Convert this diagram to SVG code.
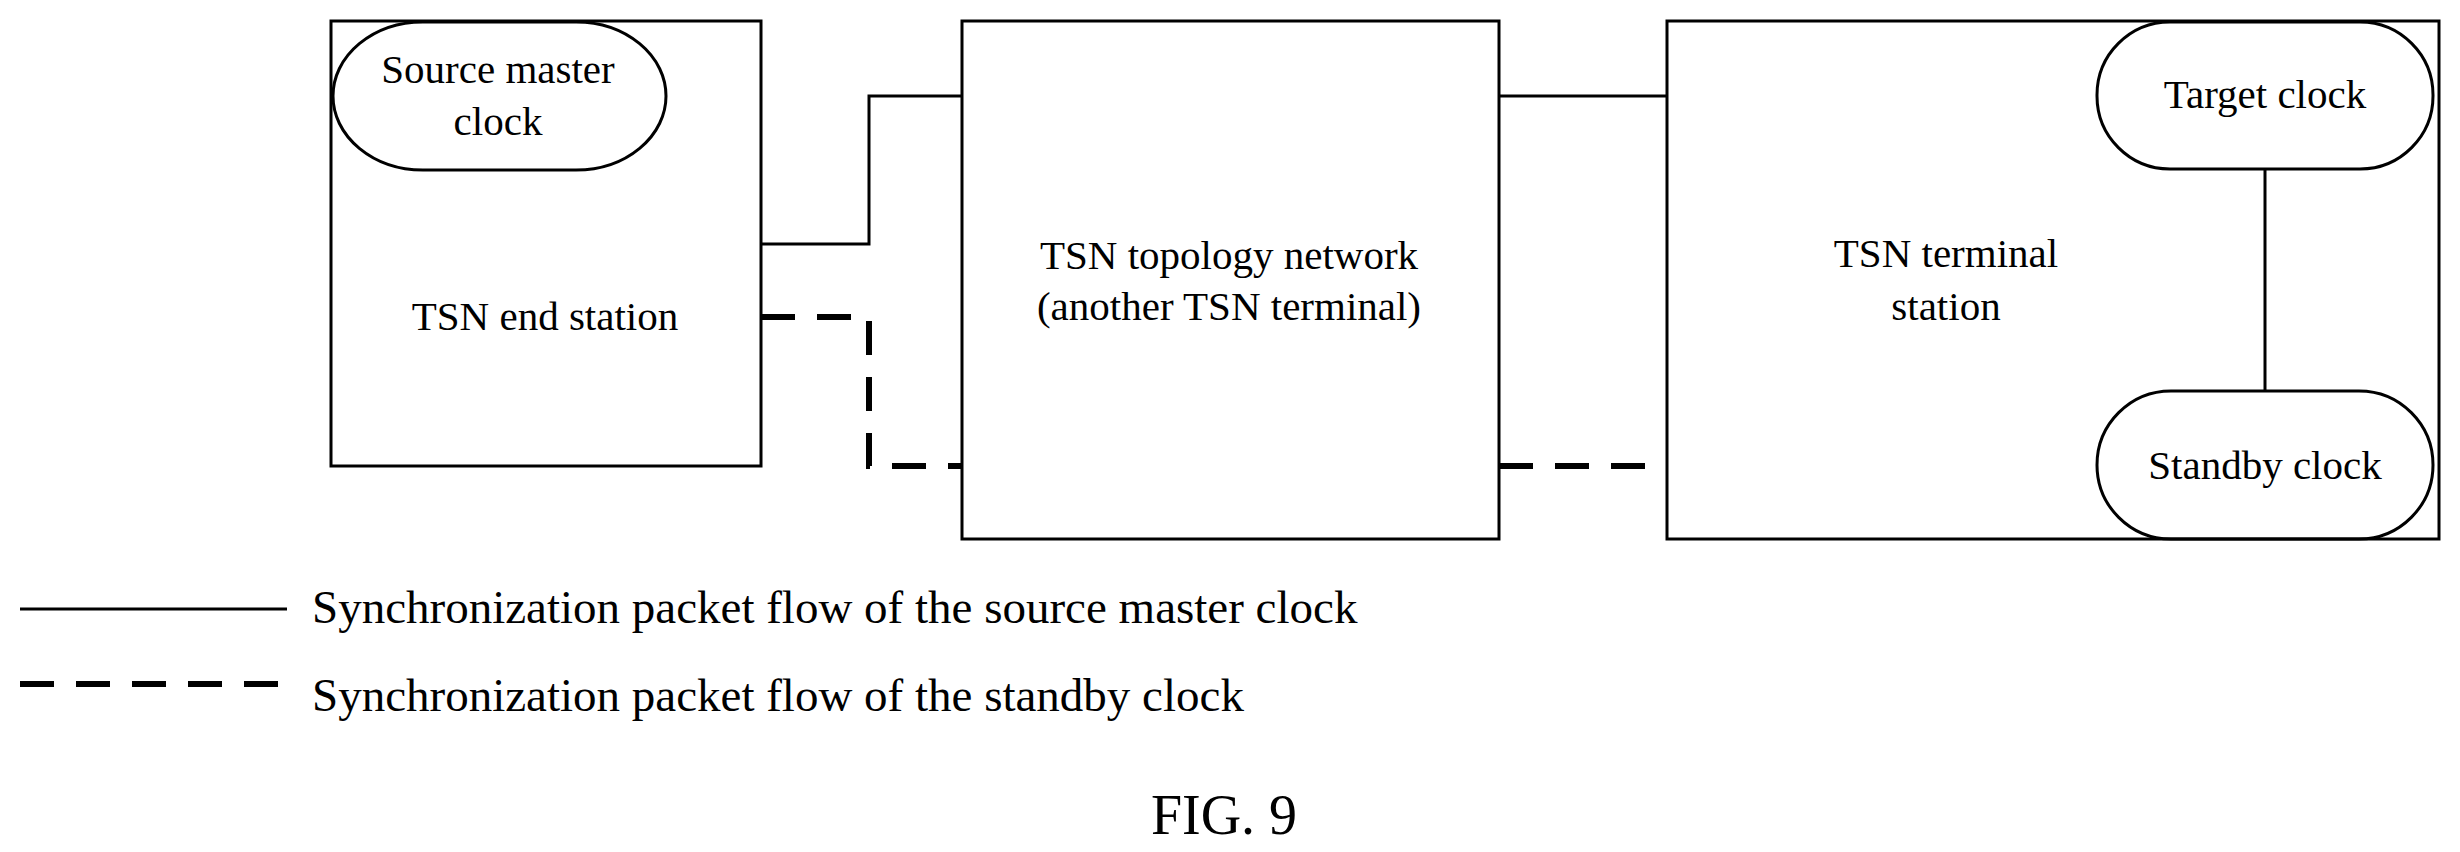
<svg xmlns="http://www.w3.org/2000/svg" width="2460" height="852" viewBox="0 0 2460 852">
<style>
.b{fill:none;stroke:#000;stroke-width:3}
.c{fill:none;stroke:#000;stroke-width:3}
.d{fill:none;stroke:#000;stroke-width:6;stroke-dasharray:34 22}
text{font-family:"Liberation Serif",serif;font-size:41px;fill:#000}
.m{text-anchor:middle}
.l{font-size:47px}
</style>
<rect width="2460" height="852" fill="#fff"/>
<g id="end-station"><rect class="b" x="331" y="21" width="430" height="445"/><text class="m" x="545" y="330">TSN end station</text></g>
<g id="source-master-clock"><rect class="b" x="333" y="22" width="333" height="148" rx="90" ry="74"/><text class="m" x="498" y="83">Source master</text><text class="m" x="498" y="135">clock</text></g>
<g id="topology"><rect class="b" x="962" y="21" width="537" height="518"/><text class="m" x="1229" y="269">TSN topology network</text><text class="m" x="1229" y="320">(another TSN terminal)</text></g>
<g id="terminal"><rect class="b" x="1667" y="21" width="772" height="518"/><text class="m" x="1946" y="267">TSN terminal</text><text class="m" x="1946" y="320">station</text></g>
<g id="target-clock"><rect class="b" x="2097" y="22" width="336" height="147" rx="73"/><text class="m" x="2265" y="108">Target clock</text></g>
<g id="standby-clock"><rect class="b" x="2097" y="391" width="336" height="148" rx="74"/><text class="m" x="2265" y="479">Standby clock</text></g>
<g id="connectors">
<polyline class="c" points="761,244 869,244 869,96 962,96"/>
<line class="c" x1="1499" y1="96" x2="1667" y2="96"/>
<line class="c" x1="2265" y1="169" x2="2265" y2="391"/>
<polyline class="d" points="761,317 869,317 869,466 962,466"/>
<line class="d" x1="1499" y1="466" x2="1650" y2="466"/>
</g>
<g id="legend">
<line class="c" x1="20" y1="609" x2="287" y2="609"/>
<text class="l" x="312" y="623">Synchronization packet flow of the source master clock</text>
<line class="d" x1="20" y1="684" x2="287" y2="684"/>
<text class="l" x="312" y="711">Synchronization packet flow of the standby clock</text>
</g>
<text class="m" style="font-size:56px" x="1224" y="834">FIG. 9</text>
</svg>
